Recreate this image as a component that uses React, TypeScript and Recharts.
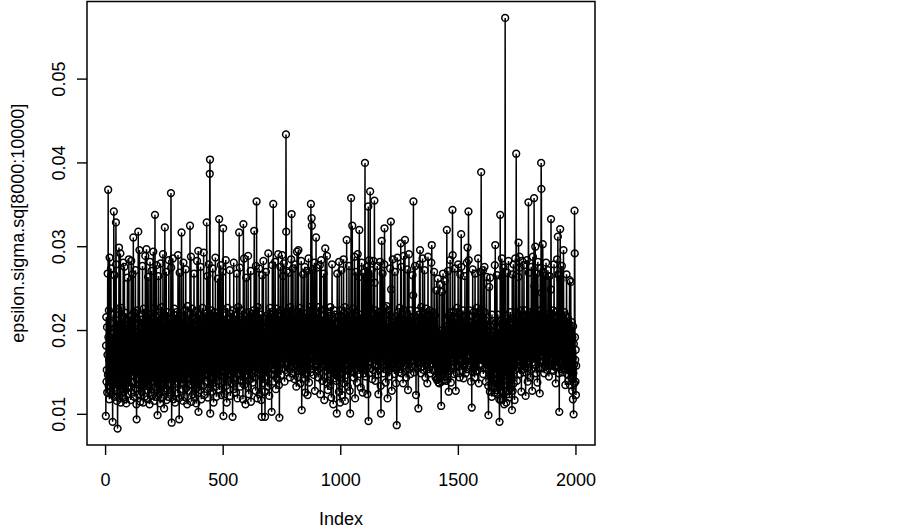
import React from "react";
import {
  ComposedChart,
  Line,
  XAxis,
  YAxis,
  ReferenceArea,
} from "recharts";

// epsilon.sigma.sq[8000:10000], in units of 1e-4
const sigmaSqE4 = [
  /* 1 */ 98,182,216,139,153,204,126,171,268,147,368,192,134,224,165,118,287,176,152,127,209,163,274,141,187,
  /* 26 */ 158,124,196,143,91,172,219,137,185,342,164,121,266,151,178,203,132,167,329,279,128,174,116,212,149,
  /* 51 */ 83,136,197,226,151,178,299,162,119,207,183,141,292,169,114,193,227,155,176,131,214,168,122,188,281,
  /* 76 */ 159,127,203,174,276,145,169,118,194,221,153,182,113,166,207,138,176,263,149,191,124,206,161,285,133,
  /* 101 */ 184,152,217,134,171,205,117,179,283,157,126,194,168,267,146,211,175,311,186,139,222,121,167,199,154,
  /* 126 */ 178,272,131,188,164,112,94,197,159,224,143,173,209,318,168,124,195,153,296,135,184,217,115,166,202,
  /* 151 */ 148,176,127,213,189,157,277,136,171,114,198,226,162,143,187,121,208,181,289,139,165,194,129,297,173,
  /* 176 */ 209,144,185,118,167,264,155,196,134,219,176,112,188,282,151,164,205,126,178,271,159,122,192,171,214,
  /* 201 */ 139,183,294,149,172,116,201,227,154,338,186,133,207,168,121,278,163,191,129,216,99,157,199,174,265,
  /* 226 */ 147,194,125,169,218,155,113,186,280,162,135,203,177,119,228,159,190,144,291,172,128,209,165,107,197,
  /* 251 */ 179,323,152,217,131,188,166,270,117,200,175,148,222,158,193,121,207,170,284,137,182,213,150,168,126,
  /* 276 */ 210,164,364,275,153,90,185,129,199,172,286,144,118,205,180,157,226,136,189,167,114,218,174,195,149,
  /* 301 */ 184,222,139,168,207,125,176,290,155,193,119,170,94,199,269,148,182,164,217,130,173,206,317,155,190,
  /* 326 */ 137,214,169,185,116,281,160,196,143,178,224,121,202,167,154,273,131,189,173,210,148,112,195,229,162,
  /* 351 */ 180,144,208,166,128,219,185,153,325,172,198,135,288,163,115,204,177,226,149,188,168,124,214,159,195,
  /* 376 */ 268,150,177,120,205,164,188,140,223,173,113,197,159,283,168,132,212,185,295,103,157,219,142,180,203,
  /* 401 */ 165,129,194,276,153,176,118,210,170,188,145,227,162,200,134,179,293,156,123,207,174,192,148,220,167,
  /* 426 */ 184,139,217,163,329,195,148,265,172,120,206,158,189,279,131,177,214,387,404,101,168,200,145,224,179,
  /* 451 */ 153,192,127,208,170,274,144,185,114,199,175,156,222,138,190,167,287,133,178,204,121,195,162,217,149,
  /* 476 */ 186,262,164,140,202,173,155,333,197,129,219,168,184,146,278,160,207,123,178,195,152,270,169,190,322,
  /* 501 */ 98,165,210,143,182,124,218,172,199,157,284,134,188,170,114,206,179,227,152,193,139,214,166,184,148,
  /* 526 */ 200,174,272,159,122,207,185,148,220,166,193,137,179,224,97,169,212,153,188,281,130,175,203,162,196,
  /* 551 */ 144,218,170,187,126,209,157,268,174,195,119,182,164,228,149,203,176,317,155,190,275,133,169,212,178,
  /* 576 */ 159,195,140,224,167,186,150,210,118,178,327,199,163,286,135,188,172,217,154,112,206,170,263,147,192,
  /* 601 */ 175,213,152,187,133,289,166,200,124,179,222,157,194,142,210,168,271,115,188,173,204,149,220,162,185,
  /* 626 */ 138,207,170,224,153,189,319,175,144,212,166,195,128,277,180,157,354,202,164,187,119,228,173,150,215,
  /* 651 */ 192,159,274,177,124,205,168,190,146,219,163,117,197,97,182,266,155,209,174,137,283,166,198,152,184,
  /* 676 */ 170,127,97,214,188,156,270,173,199,145,218,164,185,133,207,179,292,150,194,168,122,210,187,227,159,
  /* 701 */ 196,173,219,148,185,103,207,165,278,154,190,177,351,223,162,200,139,215,178,153,282,169,192,130,208,
  /* 726 */ 174,226,157,189,143,212,170,198,291,165,184,135,217,96,179,203,160,276,172,195,147,224,168,186,209,
  /* 751 */ 290,177,214,155,265,188,166,280,174,200,139,222,167,208,184,153,434,318,178,271,162,197,219,150,190,
  /* 776 */ 208,169,269,182,155,220,177,194,144,228,166,202,159,285,175,339,188,213,149,200,172,274,157,185,219,
  /* 801 */ 164,195,142,217,178,279,159,204,170,186,133,222,177,294,152,193,168,210,144,296,182,219,155,198,173,
  /* 826 */ 227,160,189,137,208,174,283,163,105,196,179,217,152,184,267,167,143,205,178,194,159,276,172,126,212,
  /* 851 */ 185,149,220,168,197,271,157,179,123,209,174,192,286,165,138,216,184,160,228,173,202,150,351,189,224,
  /* 876 */ 334,325,177,208,154,273,189,168,213,147,200,179,281,164,128,207,185,222,159,311,174,198,275,166,190,
  /* 901 */ 153,219,175,196,144,228,182,167,210,155,278,173,124,202,188,164,284,157,193,178,217,140,184,169,208,
  /* 926 */ 174,268,159,190,117,204,177,225,298,188,152,213,170,195,138,289,182,164,207,129,179,222,155,200,167,
  /* 951 */ 193,148,217,173,134,228,186,162,209,120,197,175,279,154,189,167,213,112,200,182,155,224,170,143,208,
  /* 976 */ 177,219,152,195,168,140,207,101,184,268,163,198,145,216,174,189,127,282,160,202,178,114,192,167,224,
  /* 1001 */ 149,188,272,164,200,123,217,178,156,209,170,285,137,195,182,159,228,116,204,175,190,147,219,166,308,
  /* 1026 */ 194,160,222,177,133,208,165,187,152,277,174,199,128,217,101,185,169,212,358,178,207,150,195,325,168,
  /* 1051 */ 184,226,157,200,144,212,175,288,163,188,119,205,179,270,155,193,170,217,138,200,182,291,166,209,153,
  /* 1076 */ 197,174,264,320,185,148,210,167,193,132,219,180,155,281,188,164,207,126,195,173,269,159,184,213,149,
  /* 1101 */ 177,208,400,224,162,190,145,217,173,276,156,199,124,185,212,168,348,92,202,178,284,163,190,227,366,
  /* 1126 */ 262,174,207,155,189,272,167,200,142,218,179,195,153,283,170,188,213,355,257,165,202,140,224,177,193,
  /* 1151 */ 159,216,185,170,277,147,204,178,195,124,222,167,189,153,210,175,282,162,198,134,101,187,219,307,174,
  /* 1176 */ 205,163,268,178,194,149,217,170,185,279,322,227,159,200,174,138,212,188,165,229,153,197,176,119,208,
  /* 1201 */ 182,157,224,173,199,145,218,164,190,274,155,202,330,249,175,193,128,214,169,186,285,160,207,177,196,
  /* 1226 */ 164,210,148,185,270,173,199,155,217,137,188,170,87,205,179,287,159,194,222,167,183,150,213,175,198,
  /* 1251 */ 227,168,190,154,304,207,172,276,149,194,178,219,163,200,137,212,185,289,170,193,158,224,308,177,205,
  /* 1276 */ 166,193,144,218,179,202,160,273,175,188,129,213,167,195,291,154,186,207,172,224,148,199,180,165,216,
  /* 1301 */ 184,157,210,173,266,195,164,242,354,178,202,150,217,169,188,277,157,194,175,123,209,182,168,223,190,
  /* 1326 */ 155,207,174,192,107,219,167,200,183,279,162,296,195,177,212,149,228,170,189,157,204,180,286,164,196,
  /* 1351 */ 178,220,153,189,167,272,192,175,208,144,199,182,226,160,194,169,217,137,202,185,288,163,177,210,154,
  /* 1376 */ 195,172,224,188,149,213,177,202,165,281,184,302,208,170,197,153,222,179,206,164,190,270,175,152,218,
  /* 1401 */ 167,200,144,185,146,248,159,177,141,194,168,143,262,152,186,138,175,200,137,164,255,150,182,151,196,
  /* 1426 */ 153,110,177,139,246,164,148,190,155,268,151,179,167,141,198,145,259,160,182,153,205,169,140,193,176,
  /* 1451 */ 320,159,212,185,148,271,170,194,127,218,177,205,152,189,284,166,200,138,222,179,157,210,185,168,344,
  /* 1476 */ 290,177,199,163,222,148,187,210,172,274,157,194,179,128,213,168,190,149,227,174,202,159,185,279,166,
  /* 1501 */ 193,157,219,178,144,210,185,267,167,200,174,315,276,163,188,217,152,195,177,224,169,143,208,184,159,
  /* 1526 */ 202,174,265,165,190,149,217,178,195,163,281,154,187,299,212,170,198,342,284,177,193,159,224,168,184,
  /* 1551 */ 157,210,175,139,194,163,108,218,182,167,273,150,199,173,222,155,188,207,144,179,268,164,195,152,213,
  /* 1576 */ 178,199,164,227,186,152,213,175,286,168,192,137,219,184,160,207,173,270,195,165,188,389,224,177,202,
  /* 1601 */ 159,217,185,170,272,148,200,177,209,164,276,222,155,188,173,212,139,195,167,264,182,154,207,179,193,
  /* 1626 */ 168,134,99,197,153,252,176,188,127,263,162,190,145,205,178,173,121,219,157,184,194,132,182,168,143,
  /* 1651 */ 207,140,175,126,278,164,302,149,192,171,210,129,167,266,158,184,124,219,170,177,138,202,163,118,91,
  /* 1676 */ 155,133,338,173,117,212,166,185,128,286,264,148,168,119,204,179,275,140,177,112,195,156,218,573,170,
  /* 1701 */ 146,200,157,114,214,170,135,269,178,129,197,152,283,124,185,167,120,210,174,139,222,153,131,189,166,
  /* 1726 */ 207,144,105,267,172,128,195,159,279,184,137,213,168,117,200,177,286,153,189,222,411,164,208,140,195,
  /* 1751 */ 174,217,155,200,264,305,182,164,210,288,275,148,194,175,224,159,188,127,205,170,283,153,197,179,216,
  /* 1776 */ 162,195,178,278,150,207,173,224,157,189,122,218,170,202,184,284,155,177,213,139,198,167,353,269,188,
  /* 1801 */ 207,164,222,178,195,144,219,185,168,276,153,200,174,128,212,187,288,162,195,177,224,358,253,170,193,
  /* 1826 */ 159,300,217,175,198,149,268,184,167,209,138,195,282,173,188,155,224,179,207,164,125,200,274,182,169,
  /* 1851 */ 224,400,369,245,187,174,208,155,303,199,177,270,164,190,149,217,173,265,195,158,210,182,281,167,200,
  /* 1876 */ 178,219,153,197,170,272,184,162,208,145,194,177,265,159,202,185,167,249,333,212,174,195,153,220,187,
  /* 1901 */ 164,207,179,224,152,195,279,173,188,157,215,169,200,137,222,184,163,209,178,285,157,194,312,267,175,
  /* 1926 */ 202,149,266,103,177,213,165,321,260,188,207,154,195,173,277,162,184,217,150,200,175,296,194,167,222,
  /* 1951 */ 154,190,169,207,135,218,177,194,159,267,184,148,202,173,215,163,188,140,209,177,155,194,260,168,135,
  /* 1976 */ 197,164,258,153,185,144,210,175,128,192,167,118,205,149,100,184,159,137,343,292,192,165,139,177,123,
  /* 2001 */ 158,
];

const xTicks = [0, 500, 1000, 1500, 2000];
const yTicks = [0.01, 0.02, 0.03, 0.04, 0.05];

const W = 903;
const H = 529;
const PLOT_LEFT = 87;
const PLOT_RIGHT = 595;
const PLOT_TOP = 1.5;
const PLOT_BOTTOM = 445;
const FONT = "'Liberation Sans', Arial, Helvetica, sans-serif";
const FS = 18;

const data = sigmaSqE4.map((v, i) => ({ index: i + 1, value: v / 10000 }));

// R style axis ranges: data range padded by 4% on each side
const n = data.length;
const xPad = (n - 1) * 0.04;
const xDomain: [number, number] = [1 - xPad, n + xPad];
const vals = data.map((d) => d.value);
const yMin = Math.min(...vals);
const yMax = Math.max(...vals);
const yPad = (yMax - yMin) * 0.04;
const yDomain: [number, number] = [yMin - yPad, yMax + yPad];

const XTick = (props: any) => {
  const { x, payload } = props;
  return (
    <text
      x={x}
      y={PLOT_BOTTOM + 41}
      textAnchor="middle"
      fontFamily={FONT}
      fontSize={FS}
      fill="#000"
    >
      {payload.value}
    </text>
  );
};

const YTick = (props: any) => {
  const { y, payload } = props;
  const bx = PLOT_LEFT - 22;
  return (
    <text
      x={bx}
      y={y}
      transform={`rotate(-90 ${bx} ${y})`}
      textAnchor="middle"
      fontFamily={FONT}
      fontSize={FS}
      fill="#000"
    >
      {payload.value.toFixed(2)}
    </text>
  );
};

export default function App() {
  const midY = (PLOT_TOP + PLOT_BOTTOM) / 2;
  return (
    <div
      style={{
        position: "absolute",
        left: 0,
        top: 0,
        width: W,
        height: H,
        background: "#fff",
      }}
    >
      <ComposedChart
        width={W}
        height={H}
        data={data}
        margin={{ top: PLOT_TOP, right: W - PLOT_RIGHT, bottom: 0, left: 0 }}
      >
        <XAxis
          dataKey="index"
          type="number"
          domain={xDomain}
          ticks={xTicks}
          allowDataOverflow
          height={H - PLOT_BOTTOM}
          axisLine={false}
          tickSize={10}
          tickLine={{ stroke: "#000", strokeWidth: 1.4 }}
          tick={<XTick />}
          interval={0}
        />
        <YAxis
          type="number"
          domain={yDomain}
          ticks={yTicks}
          allowDataOverflow
          width={PLOT_LEFT}
          axisLine={false}
          tickSize={10}
          tickLine={{ stroke: "#000", strokeWidth: 1.4 }}
          tick={<YTick />}
          interval={0}
        />
        <Line
          type="linear"
          dataKey="value"
          stroke="#000"
          strokeWidth={1.5}
          dot={{ r: 3.4, stroke: "#000", strokeWidth: 1.5, fill: "none" }}
          activeDot={false}
          isAnimationActive={false}
        />
        <ReferenceArea
          x1={xDomain[0]}
          x2={xDomain[1]}
          y1={yDomain[0]}
          y2={yDomain[1]}
          fill="none"
          stroke="#000"
          strokeWidth={1.5}
          ifOverflow="visible"
        />
      </ComposedChart>
      <svg
        width={W}
        height={H}
        style={{ position: "absolute", left: 0, top: 0, pointerEvents: "none" }}
      >
        <text
          x={(PLOT_LEFT + PLOT_RIGHT) / 2}
          y={525}
          textAnchor="middle"
          fontFamily={FONT}
          fontSize={FS}
          fill="#000"
        >
          Index
        </text>
        <text
          x={24}
          y={midY}
          transform={`rotate(-90 24 ${midY})`}
          textAnchor="middle"
          fontFamily={FONT}
          fontSize={FS}
          fill="#000"
        >
          epsilon.sigma.sq[8000:10000]
        </text>
      </svg>
    </div>
  );
}
